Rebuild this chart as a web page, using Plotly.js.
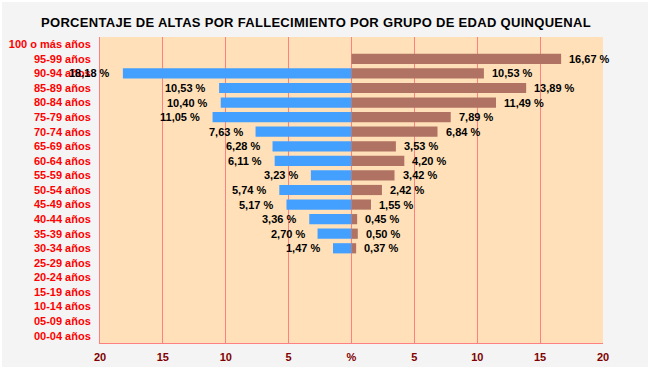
<!DOCTYPE html>
<html><head><meta charset="utf-8">
<script src="https://cdn.plot.ly/plotly-3.0.1.min.js"></script>
<style>
html,body{margin:0;padding:0;background:#ffffff;}
#chart{position:absolute;left:2px;top:2px;width:646px;height:365px;}
.gtitle{letter-spacing:0.3px;}
</style>
</head><body>
<div id="chart"></div>
<script>
var categories = ["00-04 años","05-09 años","10-14 años","15-19 años","20-24 años","25-29 años","30-34 años","35-39 años","40-44 años","45-49 años","50-54 años","55-59 años","60-64 años","65-69 años","70-74 años","75-79 años","80-84 años","85-89 años","90-94 años","95-99 años","100 o más años"];
var leftValues  = [null,null,null,null,null,null,1.47,2.70,3.36,5.17,5.74,3.23,6.11,6.28,7.63,11.05,10.40,10.53,18.18,null,null];
var rightValues = [null,null,null,null,null,null,0.37,0.50,0.45,1.55,2.42,3.42,4.20,3.53,6.84,7.89,11.49,13.89,10.53,16.67,null];
var xTickVals = [-20,-15,-10,-5,0,5,10,15,20];
var xTickText = ["20","15","10","5","%","5","10","15","20"];

function fmt(v){ return v.toFixed(2).replace('.', ',') + ' %'; }

var font = "Liberation Sans, Arial, sans-serif";
var traces = [
  {type:'bar', orientation:'h', y:categories, x:leftValues.map(function(v){return v===null?null:-v;}),
   marker:{color:'#44a0ff'}, width:0.7, hoverinfo:'none'},
  {type:'bar', orientation:'h', y:categories, x:rightValues,
   marker:{color:'#b07262'}, width:0.7, hoverinfo:'none'}
];
var annotations = [];
categories.forEach(function(c,i){
  if(leftValues[i]!==null){
    annotations.push({x:-leftValues[i], y:c, xref:'x', yref:'y', text:fmt(leftValues[i]), showarrow:false,
      xanchor:'right', xshift:-11, font:{family:font, size:11, color:'#000', weight:'bold'}});
  }
  if(rightValues[i]!==null){
    annotations.push({x:rightValues[i], y:c, xref:'x', yref:'y', text:fmt(rightValues[i]), showarrow:false,
      xanchor:'left', xshift:6, font:{family:font, size:11, color:'#000', weight:'bold'}});
  }
});
var layout = {
  width:646, height:365,
  paper_bgcolor:'#f4f4f4', plot_bgcolor:'#ffe0b9',
  margin:{l:98, r:45, t:35, b:24, pad:0},
  showlegend:false, barmode:'overlay',
  title:{text:'PORCENTAJE DE ALTAS POR FALLECIMIENTO POR GRUPO DE EDAD QUINQUENAL',
    x:314/646, xanchor:'center', xref:'container', y:1-(20/365), yanchor:'middle',
    font:{family:font, size:13, color:'#000', weight:'bold'}},
  xaxis:{range:[-20,20], tickvals:xTickVals, ticktext:xTickText, showgrid:true, gridcolor:'#ff8080', gridwidth:1,
    zeroline:true, zerolinecolor:'#ff8080', zerolinewidth:1, showline:true, linecolor:'#ff8080', linewidth:1,
    ticks:'outside', ticklen:4, tickcolor:'rgba(0,0,0,0)', fixedrange:true,
    tickfont:{family:font, size:11, color:'#800000', weight:'bold'}},
  yaxis:{type:'category', categoryorder:'array', categoryarray:categories, showgrid:false, zeroline:false,
    showline:true, linecolor:'#ff8080', linewidth:1, ticks:'outside', ticklen:6, tickcolor:'rgba(0,0,0,0)',
    fixedrange:true, tickfont:{family:font, size:11, color:'#ff0000', weight:'bold'}},
  annotations:annotations
};
Plotly.newPlot('chart', traces, layout, {displayModeBar:false, staticPlot:true});
</script>
</body></html>
